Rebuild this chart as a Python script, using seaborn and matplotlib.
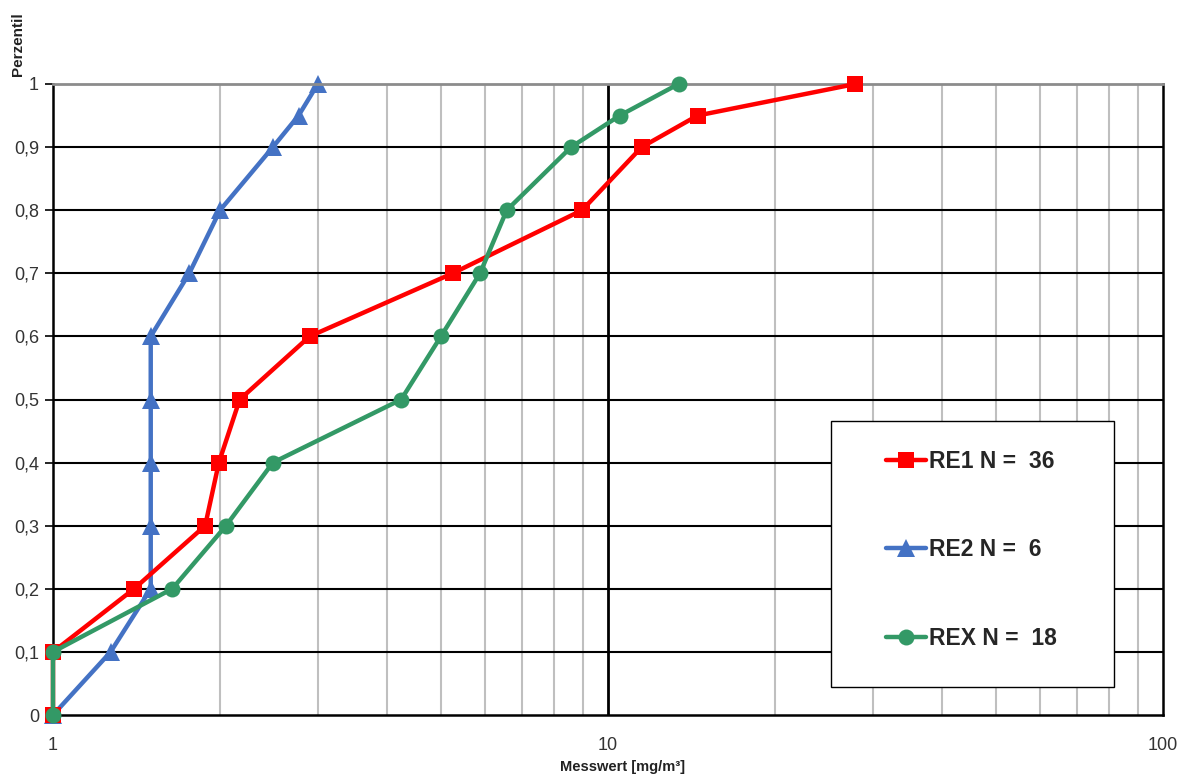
import matplotlib
matplotlib.use("Agg")
import matplotlib.pyplot as plt
import seaborn as sns
import pandas as pd
from matplotlib.patches import Rectangle
from matplotlib.ticker import FixedLocator, NullFormatter, FixedFormatter

sns.set_theme(style="white")
plt.rcParams['font.family'] = ['Liberation Sans', 'DejaVu Sans']

# Data
re1_x = [1.0, 1.0, 1.40, 1.88, 1.99, 2.17, 2.90, 5.25, 8.98, 11.5, 14.5, 27.9]
re1_y = [0.0, 0.1, 0.2, 0.3, 0.4, 0.5, 0.6, 0.7, 0.8, 0.9, 0.95, 1.0]
re2_x = [1.0, 1.27, 1.5, 1.5, 1.5, 1.5, 1.5, 1.76, 2.0, 2.49, 2.77, 3.0]
re2_y = [0.0, 0.1, 0.2, 0.3, 0.4, 0.5, 0.6, 0.7, 0.8, 0.9, 0.95, 1.0]
rex_x = [1.0, 1.0, 1.64, 2.05, 2.49, 4.24, 5.0, 5.88, 6.57, 8.58, 10.5, 13.4]
rex_y = [0.0, 0.1, 0.2, 0.3, 0.4, 0.5, 0.6, 0.7, 0.8, 0.9, 0.95, 1.0]
labels = ["RE1 N =  36", "RE2 N =  6", "REX N =  18"]
y_ticks = [0, 0.1, 0.2, 0.3, 0.4, 0.5, 0.6, 0.7, 0.8, 0.9, 1.0]
y_tick_labels = ["0", "0,1", "0,2", "0,3", "0,4", "0,5", "0,6", "0,7", "0,8", "0,9", "1"]
x_ticks = [1, 10, 100]
x_tick_labels = ["1", "10", "100"]

fig = plt.figure(figsize=(11.89, 7.78), dpi=100)
ax = fig.add_axes([53/1189, 1-715/778, (1163-53)/1189, (715-84)/778])
ax.set_xscale('log')

# grid lines
minor = [m * d for d in (1, 10) for m in range(2, 10)]
for xv in minor:
    ax.axvline(xv, color='#BFBFBF', lw=1.5, zorder=0)
ax.axvline(10, color='black', lw=2, zorder=0.5)
for yv in y_ticks[1:-1]:
    ax.axhline(yv, color='black', lw=1.5, zorder=0.5)

series = [
    (re2_x, re2_y, labels[1], '#4472C4', '^', 12.5, 2),
    (re1_x, re1_y, labels[0], '#FF0000', 's', 11, 3),
    (rex_x, rex_y, labels[2], '#339966', 'o', 11.5, 4),
]
for xs, ys, lab, col, mk, ms, z in series:
    df = pd.DataFrame({'x': xs, 'y': ys})
    sns.lineplot(data=df, x='x', y='y', sort=False, ax=ax, color=col, lw=3.2,
                 marker=mk, markersize=ms, markeredgewidth=0, label=lab,
                 zorder=z, clip_on=False, estimator=None)

ax.set_xlim(1, 100)
ax.set_ylim(0, 1)
ax.xaxis.set_major_locator(FixedLocator(x_ticks))
ax.xaxis.set_major_formatter(FixedFormatter(x_tick_labels))
ax.xaxis.set_minor_formatter(NullFormatter())
ax.set_yticks(y_ticks)
ax.set_yticklabels(y_tick_labels)
ax.tick_params(axis='y', which='both', left=True, length=6, width=1.2, color='black',
               labelsize=13, labelcolor='#333333', pad=4)
ax.tick_params(axis='x', which='both', bottom=False, labelsize=13, labelcolor='#333333', pad=10)

for side in ['left', 'bottom', 'right']:
    ax.spines[side].set_color('black')
    ax.spines[side].set_linewidth(1.8)
ax.spines['top'].set_color('#8C8C8C')
ax.spines['top'].set_linewidth(2)

ax.set_xlabel("Messwert [mg/m³]", fontsize=10.5, fontweight='bold', color='#222222')
ax.xaxis.set_label_coords((623-53)/1110, -0.072)
ax.set_ylabel("")
fig.text(18/1189, 1-44/778, "Perzentil", rotation=90, fontsize=11, fontweight='bold',
         color='#222222', ha='center', va='center')

# legend box (drawn as a frame) and legend entries
ax.add_patch(Rectangle(((831-53)/1110, (715-687)/631), (1114-831)/1110, (687-421)/631,
                       transform=ax.transAxes, facecolor='white', edgecolor='black',
                       lw=1.0, zorder=6))
handles, labs = ax.get_legend_handles_labels()
order = [labs.index(l) for l in labels]
leg = ax.legend([handles[i] for i in order], [labs[i] for i in order],
                loc='upper left', bbox_to_anchor=((886-53)/1110, (715-450)/631),
                frameon=False, prop={'weight': 'bold', 'size': 16.5},
                labelspacing=2.85, borderpad=0, handlelength=1.75,
                handletextpad=0.12, borderaxespad=0)
leg.set_zorder(7)

fig.savefig("out.png", dpi=100)
